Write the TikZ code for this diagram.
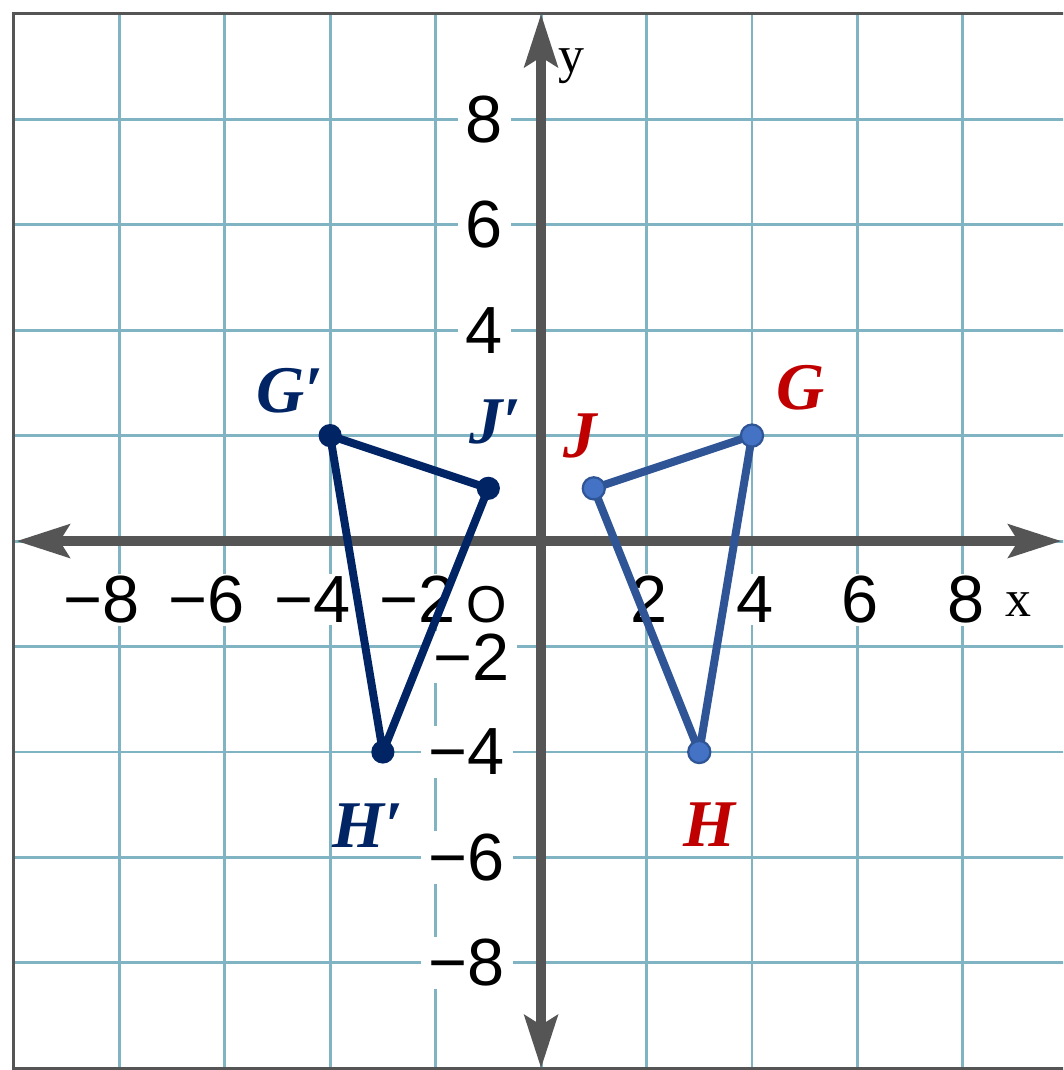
\documentclass[tikz,border=0pt]{standalone}
\usepackage{fontspec}
\setmainfont{Liberation Serif}
\newfontfamily\ticksfont{Liberation Sans}
\usepackage{tikz}
\usetikzlibrary{arrows.meta}
\definecolor{gridteal}{RGB}{128,180,194}
\definecolor{axisgray}{RGB}{85,85,85}
\definecolor{imagenavy}{RGB}{0,36,100}
\definecolor{preimgred}{RGB}{192,0,0}
\definecolor{preimgblue}{RGB}{47,85,151}
\definecolor{dotblue}{RGB}{68,114,196}

\begin{document}
\begin{tikzpicture}[>={Stealth[length=1cm, width=0.62cm, inset=0.18cm]},
    tick/.style={font=\ticksfont\fontsize{36}{40}\selectfont, fill=white, inner xsep=0.1cm, inner ysep=0.05cm},
    ptlabel/.style={font=\fontsize{36}{40}\selectfont\bfseries\itshape, inner sep=0pt},
    vertex/.style={circle, inner sep=0pt, minimum size=0.44cm}]
    \useasboundingbox (-10.26,-10.03) rectangle (9.9,10.26);
    \clip (-10.26,-10.03) rectangle (9.9,10.26);
    \fill[white] (-10.26,-10.03) rectangle (9.9,10.26);
    % grid and frame
    \foreach \t in {-8,-6,...,8} {
        \draw[gridteal, line width=1.6pt] (\t,-10) -- (\t,10);
        \draw[gridteal, line width=1.6pt] (-10,\t) -- (10.5,\t);
    }
    \draw[axisgray, line width=1.5pt] (10.5,10) -- (-10,10) -- (-10,-10) -- (10.5,-10);
    % tick labels
    \foreach \t in {2,4,6,8} {
        \node[tick, anchor=base] (xpos\t) at (\t+0.05,-1.55) {\t};
        \node[tick, anchor=base] (xneg\t) at (-\t+0.03,-1.55) {\llap{−}\t};
    }
    \foreach \t in {4,6,8}
        \node[tick, anchor=east, inner xsep=0.15cm] (ypos\t) at (-0.57,\t) {\t};
    \foreach \t in {4,6,8}
        \node[tick, anchor=east, inner xsep=0.15cm] (yneg\t) at (-0.53,-\t) {−\t};
    \node[tick, anchor=east, inner xsep=0.15cm] (yneg2) at (-0.44,-2.2) {−2};
    \node[tick, anchor=base, inner sep=0.04cm, font=\ticksfont\fontsize{28}{30}\selectfont] (origin) at (-1.04,-1.55) {O};
    % axes
    \coordinate (xleft) at (-9.95,0);
    \coordinate (xright) at (9.87,0);
    \coordinate (ybottom) at (0,-10);
    \coordinate (ytop) at (0,10);
    \draw[<->, axisgray, line width=5.5pt] (xleft) -- (xright);
    \draw[<->, axisgray, line width=5.5pt] (ybottom) -- (ytop);
    \node[font=\fontsize{28}{30}\selectfont, inner sep=0pt] (xname) at (9.06,-1.21) {x};
    \node[font=\fontsize{28}{30}\selectfont, inner sep=0pt] (yname) at (0.57,9.0) {y};
    % triangle GJH
    \node[vertex] (G) at (4,2) {};
    \node[vertex] (J) at (1,1) {};
    \node[vertex] (H) at (3,-4) {};
    \draw[preimgblue, line width=4.3pt, line join=round] (G.center) -- (J.center) -- (H.center) -- cycle;
    \foreach \p in {G,J,H}
        \filldraw[fill=dotblue, draw=preimgblue, line width=1.2pt] (\p) circle (0.21);
    % reflected triangle G'J'H'
    \node[vertex] (Gi) at (-4,2) {};
    \node[vertex] (Ji) at (-1,1) {};
    \node[vertex] (Hi) at (-3,-4) {};
    \draw[imagenavy, line width=4.3pt, line join=round] (Gi.center) -- (Ji.center) -- (Hi.center) -- cycle;
    \foreach \p in {Gi,Ji,Hi}
        \fill[imagenavy] (\p) circle (0.22);
    % vertex labels
    \node[ptlabel, preimgred] (labG) at (4.93,2.9) {G};
    \node[ptlabel, preimgred] (labJ) at (0.74,1.99) {J};
    \node[ptlabel, preimgred] (labH) at (3.2,-5.38) {H};
    \node[ptlabel, imagenavy] (labGi) at (-4.76,2.86) {G′};
    \node[ptlabel, imagenavy] (labJi) at (-0.87,2.26) {J′};
    \node[ptlabel, imagenavy] (labHi) at (-3.28,-5.4) {H′};
\end{tikzpicture}
\end{document}
